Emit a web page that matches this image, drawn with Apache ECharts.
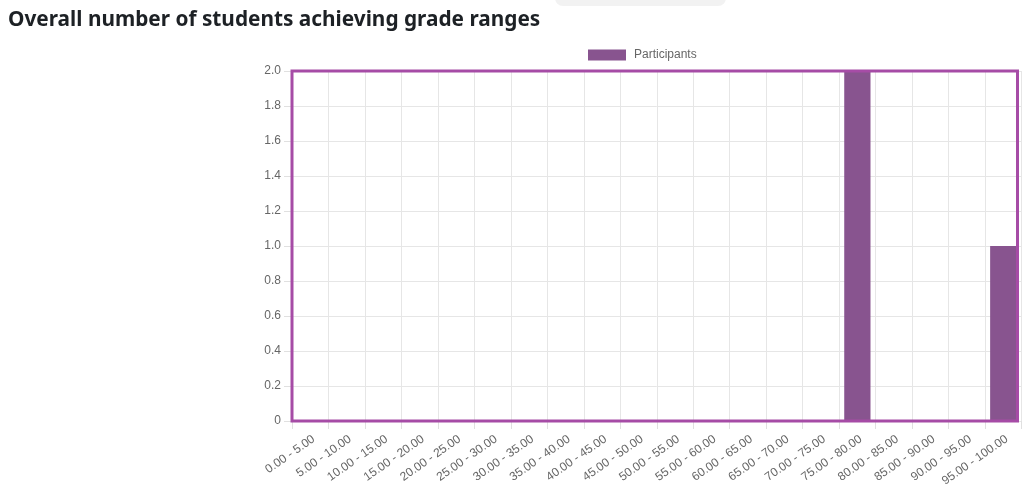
<!DOCTYPE html>
<html>
<head>
<meta charset="utf-8">
<script src="https://cdn.jsdelivr.net/npm/echarts@6/dist/echarts.min.js"></script>
<style>
html,body{margin:0;padding:0;background:#fff;}
#c{width:1024px;height:491px;}
</style>
</head>
<body>
<div id="c"></div>
<script>
const categories = ["0.00 - 5.00","5.00 - 10.00","10.00 - 15.00","15.00 - 20.00","20.00 - 25.00","25.00 - 30.00","30.00 - 35.00","35.00 - 40.00","40.00 - 45.00","45.00 - 50.00","50.00 - 55.00","55.00 - 60.00","60.00 - 65.00","65.00 - 70.00","70.00 - 75.00","75.00 - 80.00","80.00 - 85.00","85.00 - 90.00","90.00 - 95.00","95.00 - 100.00"];
const participants = [0,0,0,0,0,0,0,0,0,0,0,0,0,0,0,2,0,0,0,1];
const yTicks = {min: 0, max: 2, interval: 0.2};

const W = 1024, H = 491;
const G = {left: 292, right: 2.5, top: 71, bottom: 70};
const chart = echarts.init(document.getElementById('c'));
chart.setOption({
  animation: false,
  title: {
    text: 'Overall number of students achieving grade ranges',
    left: 8, top: 10, padding: 0,
    textStyle: {fontFamily: 'Noto Sans', fontSize: 20.8, fontWeight: 'bold', color: '#1d2125'}
  },
  graphic: [{
    type: 'rect', left: 555, top: -10,
    shape: {width: 171, height: 16, r: 8},
    style: {fill: '#f2f2f2'}
  }, {
    type: 'rect', z: 100, silent: true,
    shape: {x: G.left, y: G.top, width: 1017.5 - G.left, height: H - G.top - G.bottom},
    style: {fill: 'none', stroke: '#a64ca6', lineWidth: 3}
  }],
  legend: {
    left: 583, top: 44,
    itemWidth: 38, itemHeight: 11, itemGap: 10,
    icon: 'rect',
    textStyle: {fontFamily: 'Liberation Sans', fontSize: 12, color: '#666', padding: [0, 0, 0, 3]},
    data: ['Participants']
  },
  grid: G,
  xAxis: {
    type: 'category',
    data: categories,
    boundaryGap: true,
    axisLine: {show: false},
    axisTick: {show: true, length: 8, lineStyle: {color: '#e0e0e0'}},
    splitLine: {show: true, lineStyle: {color: '#e6e6e6'}},
    axisLabel: {rotate: 35, interval: 0, margin: 12, verticalAlign: 'top', fontFamily: 'Liberation Sans', fontSize: 12, color: '#666'}
  },
  yAxis: {
    type: 'value',
    min: yTicks.min, max: yTicks.max, interval: yTicks.interval,
    axisLine: {show: false},
    axisTick: {show: true, length: 8, lineStyle: {color: '#e0e0e0'}},
    splitLine: {show: true, lineStyle: {color: '#e6e6e6'}},
    axisLabel: {
      margin: 11, fontFamily: 'Liberation Sans', fontSize: 12, color: '#666',
      formatter: v => v === 0 ? '0' : v.toFixed(1)
    }
  },
  series: [{
    name: 'Participants',
    type: 'bar',
    data: participants,
    barWidth: '72%',
    itemStyle: {color: '#88548f'}
  }]
});
</script>
</body>
</html>
